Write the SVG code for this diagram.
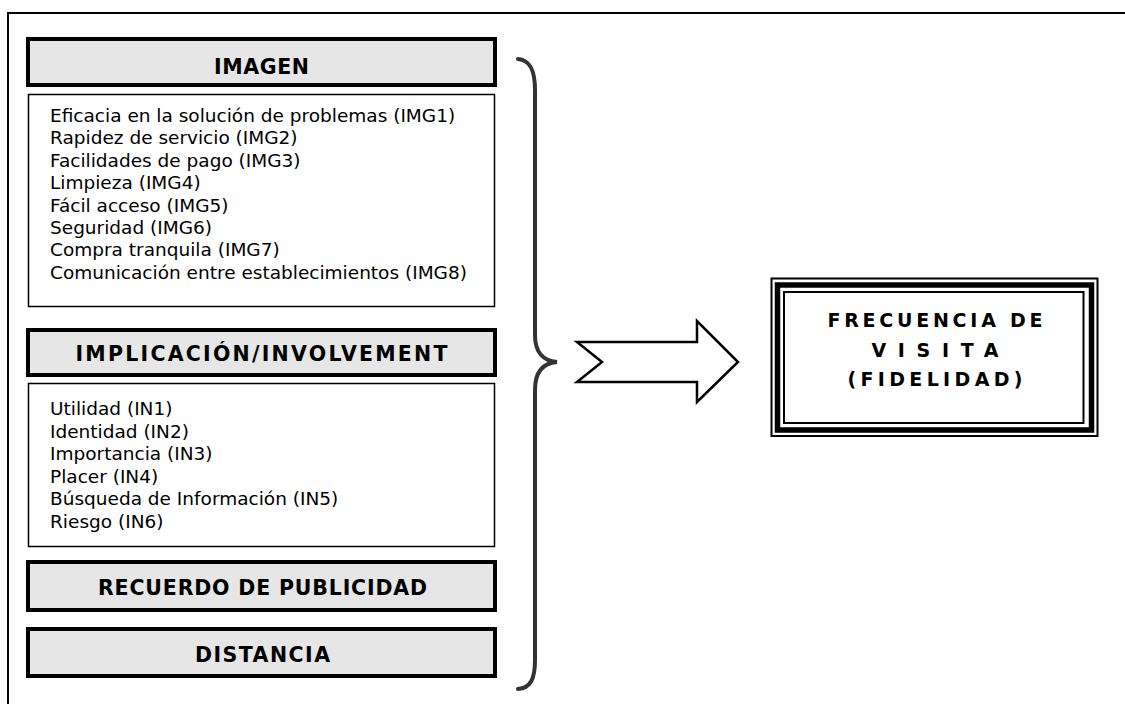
<svg xmlns="http://www.w3.org/2000/svg" width="1125" height="704" viewBox="0 0 1125 704">
<style>
.frame{fill:none;stroke:#000;stroke-width:2}
.hdr{fill:#e6e6e6;stroke:#000;stroke-width:4}
.box{fill:#fff;stroke:#000;stroke-width:1.5}
.ht{font-family:"DejaVu Sans",Verdana,sans-serif;font-weight:bold;font-size:20.5px;fill:#000;text-anchor:middle}
.lt{font-family:"DejaVu Sans",Verdana,sans-serif;font-size:18.5px;fill:#000}
.rt{font-family:"DejaVu Sans",Verdana,sans-serif;font-weight:bold;font-size:19px;fill:#000;text-anchor:middle}
.brace{fill:none;stroke:#333;stroke-width:4;stroke-linecap:round}
.arrow{fill:#fff;stroke:#000;stroke-width:2.5;stroke-linejoin:miter}
</style>
<rect width="1125" height="704" fill="#fff"/>
<rect class="frame" x="8" y="13" width="1200" height="800"/>

<g id="imagen-header">
<rect class="hdr" x="28" y="39" width="467" height="46"/>
<text class="ht" x="261.5" y="74" textLength="95" lengthAdjust="spacing">IMAGEN</text>
</g>
<g id="imagen-items">
<rect class="box" x="28.5" y="94.5" width="466" height="212"/>
<text class="lt" x="50" y="122">Eficacia en la solución de problemas (IMG1)</text>
<text class="lt" x="50" y="144.4">Rapidez de servicio (IMG2)</text>
<text class="lt" x="50" y="166.8">Facilidades de pago (IMG3)</text>
<text class="lt" x="50" y="189.2">Limpieza (IMG4)</text>
<text class="lt" x="50" y="211.6">Fácil acceso (IMG5)</text>
<text class="lt" x="50" y="234">Seguridad (IMG6)</text>
<text class="lt" x="50" y="256.4">Compra tranquila (IMG7)</text>
<text class="lt" x="50" y="278.8">Comunicación entre establecimientos (IMG8)</text>
</g>

<g id="implicacion-header">
<rect class="hdr" x="28" y="330" width="467" height="45"/>
<text class="ht" x="261.5" y="360.5" textLength="372" lengthAdjust="spacing">IMPLICACIÓN/INVOLVEMENT</text>
</g>
<g id="implicacion-items">
<rect class="box" x="28.5" y="383.5" width="466" height="163"/>
<text class="lt" x="50" y="415">Utilidad (IN1)</text>
<text class="lt" x="50" y="437.5">Identidad (IN2)</text>
<text class="lt" x="50" y="460">Importancia (IN3)</text>
<text class="lt" x="50" y="482.5">Placer (IN4)</text>
<text class="lt" x="50" y="505">Búsqueda de Información (IN5)</text>
<text class="lt" x="50" y="527.5">Riesgo (IN6)</text>
</g>

<g id="recuerdo">
<rect class="hdr" x="28" y="562" width="467" height="48"/>
<text class="ht" x="262.5" y="595" textLength="329" lengthAdjust="spacing">RECUERDO DE PUBLICIDAD</text>
</g>

<g id="distancia">
<rect class="hdr" x="28" y="629" width="467" height="47"/>
<text class="ht" x="262.5" y="661.5" textLength="135" lengthAdjust="spacing">DISTANCIA</text>
</g>

<g id="frecuencia">
<rect x="771.5" y="278.5" width="326" height="157.5" fill="#fff" stroke="#000" stroke-width="2"/>
<rect x="777.5" y="285" width="314" height="145" fill="none" stroke="#000" stroke-width="5.5"/>
<rect x="784" y="292" width="299.5" height="131" fill="none" stroke="#000" stroke-width="2"/>
<text class="rt" x="935" y="327" textLength="215" lengthAdjust="spacing">FRECUENCIA DE</text>
<text class="rt" x="935" y="356.5" textLength="127" lengthAdjust="spacing">VISITA</text>
<text class="rt" x="935" y="385.5" textLength="175" lengthAdjust="spacing">(FIDELIDAD)</text>
</g>

<g id="connectors">
<path class="brace" d="M518,59 C530,60 535,70 535,90 L535,335 C535,352 543,361 557,362 C543,363 535,372 535,390 L535,660 C535,680 530,688 518,689"/>
<polygon class="arrow" points="577,342 697,342 697,321 738,362 697,402 697,382 577,382 602,362"/>
</g>
</svg>
